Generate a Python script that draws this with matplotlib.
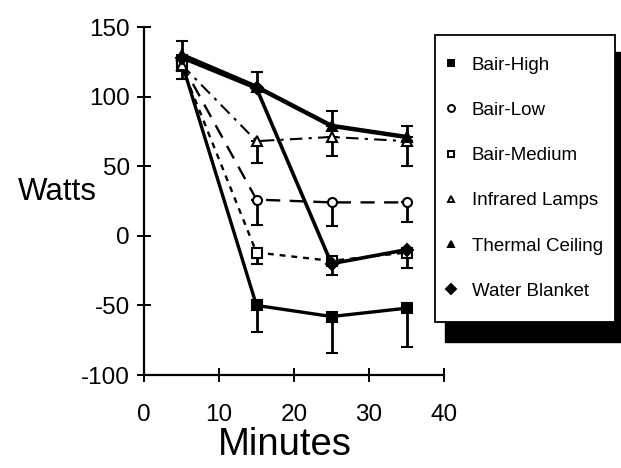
import matplotlib
matplotlib.use("Agg")
import matplotlib.pyplot as plt
from matplotlib.patches import Rectangle
from matplotlib.lines import Line2D

plt.rcParams['font.family'] = ['Liberation Sans', 'DejaVu Sans']
plt.rcParams['axes.unicode_minus'] = False

minutes = [5, 15, 25, 35]

bair_high = [125, -50, -58, -52]
bair_high_lo = [12, 19, 26, 28]
bair_low = [124, 26, 24, 24]
bair_low_lo = [0, 18, 17, 14]
bair_medium = [122, -12, -18, -12]
bair_medium_lo = [0, 8, 0, 0]
infrared = [123, 68, 71, 68]
infrared_lo = [0, 16, 14, 18]
thermal = [130, 107, 79, 71]
thermal_hi = [10, 11, 11, 8]
water = [128, 106, -20, -10]
water_lo = [0, 0, 8, 13]

labels = ["Bair-High", "Bair-Low", "Bair-Medium", "Infrared Lamps",
          "Thermal Ceiling", "Water Blanket"]

fig = plt.figure(figsize=(6.21, 4.68), dpi=100)
ax = fig.add_axes([144/621, 93/468, 300/621, 348/468])

zeros = [0, 0, 0, 0]
series = [
    (bair_high, [bair_high_lo, zeros], '-', 's', 'k', 2.4),
    (bair_low, [bair_low_lo, zeros], (0, (6, 4)), 'o', 'w', 1.7),
    (bair_medium, [bair_medium_lo, zeros], (0, (2.5, 2.5)), 's', 'w', 1.7),
    (infrared, [infrared_lo, zeros], (0, (6, 3, 1.5, 3)), '^', 'w', 1.5),
    (thermal, [zeros, thermal_hi], '-', '^', 'k', 3.2),
    (water, [water_lo, zeros], '-', 'D', 'k', 2.6),
]
for y, err, ls, mk, fc, lw in series:
    ax.errorbar(minutes, y, yerr=err, color='k', ls=ls, lw=lw,
                marker=mk, ms=6.5, mfc=fc, mec='k', mew=1.5,
                elinewidth=2.0, capsize=4, capthick=2.8)

ax.set_xlim(0, 40)
ax.set_ylim(-100, 150)
ax.set_xticks([0, 10, 20, 30, 40])
ax.set_yticks([-100, -50, 0, 50, 100, 150])
ax.spines['top'].set_visible(False)
ax.spines['right'].set_visible(False)
for s in ('left', 'bottom'):
    ax.spines[s].set_linewidth(1.6)
ax.tick_params(axis='both', direction='inout', length=10, width=1.4,
               labelsize=17.5)
ax.tick_params(axis='x', pad=16)
ax.tick_params(axis='y', pad=5)

ax.set_xlabel("Minutes", fontsize=27.5, labelpad=0)
ax.xaxis.set_label_coords(0.47, -0.15)
fig.text(18/621, 1 - 192/468, "Watts", fontsize=22.5, ha='left', va='center')

# legend box with drop shadow
fig.patches.append(Rectangle((445/621, 1 - 342/468), 176/621, 290/468,
                             transform=fig.transFigure, fc='k', ec='k',
                             zorder=1))
fig.patches.append(Rectangle((435/621, 1 - 322/468), 180/621, 287/468,
                             transform=fig.transFigure, fc='w', ec='k',
                             lw=1.3, zorder=2))
handles = [Line2D([], [], ls='none', marker=mk, ms=5, mfc=fc, mec='k', mew=1.4,
                  color='k')
           for _, _, _, mk, fc, _ in series]
leg = fig.legend(handles, labels, loc='upper left',
                 bbox_to_anchor=(434/621, 1 - 49/468), frameon=False,
                 fontsize=13.5, handlelength=1.0, handletextpad=0.6,
                 labelspacing=1.5, borderaxespad=0)
leg.set_zorder(3)

fig.savefig("out.png", dpi=100)
